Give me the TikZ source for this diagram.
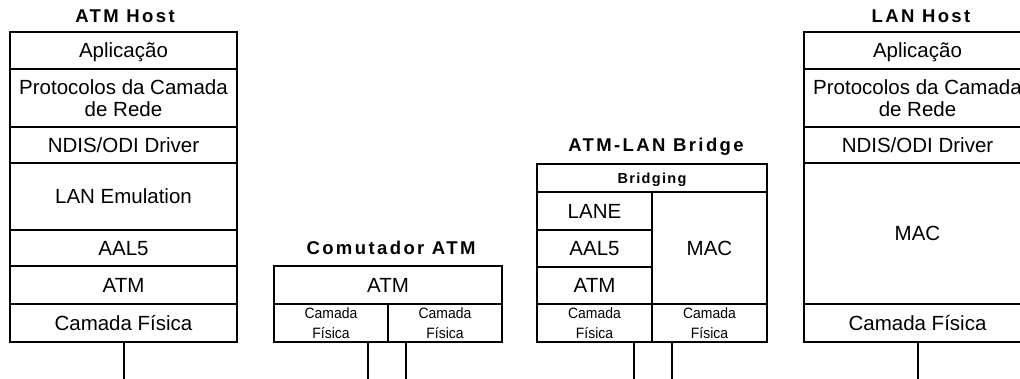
\documentclass[tikz,border=0pt]{standalone}
\usepackage{fontspec}
\setmainfont{Liberation Sans}
\newfontfamily\titlefont[LetterSpace=13]{Liberation Sans}
\newfontfamily\smallbold[LetterSpace=9]{Liberation Sans}
\newfontfamily\smallfont[FakeStretch=0.93]{Liberation Sans}
\begin{document}
\begin{tikzpicture}[x=1pt,y=-1pt,line width=2pt,
  cell/.style={draw,inner sep=0pt,outer sep=0pt,font=\fontsize{20.5}{22}\selectfont,text height=14.7pt,text depth=0pt},
  cellml/.style={draw,inner sep=0pt,outer sep=0pt,align=center,font=\fontsize{20.5}{22}\selectfont},
  small/.style={draw,inner sep=0pt,outer sep=0pt,align=center,font=\smallfont\fontsize{15}{19.5}\selectfont},
  smallb/.style={draw,inner sep=0pt,outer sep=0pt,font=\smallbold\bfseries\fontsize{14.5}{16}\selectfont,text height=10.4pt,text depth=0pt},
  ttl/.style={anchor=base,inner sep=0pt,font=\titlefont\bfseries\fontsize{18.5}{20}\selectfont},
  wire/.style={line width=2pt}]
\useasboundingbox (0,0) rectangle (1020,379);

% ATM Host
\node[ttl] (tA) at (125,23) {ATM Host};
\node[cell,minimum width=227pt,minimum height=37pt] (a1) at (123.5,50.5) {Aplicação};
\node[cellml,minimum width=227pt,minimum height=58pt] (a2) at (123.5,98) {Protocolos da Camada\\de Rede};
\node[cell,minimum width=227pt,minimum height=36pt] (a3) at (123.5,145) {NDIS/ODI Driver};
\node[cell,minimum width=227pt,minimum height=67pt] (a4) at (123.5,196.5) {LAN Emulation};
\node[cell,minimum width=227pt,minimum height=36pt] (a5) at (123.5,248) {AAL5};
\node[cell,minimum width=227pt,minimum height=38pt] (a6) at (123.5,285) {ATM};
\node[cell,minimum width=227pt,minimum height=38pt] (a7) at (123.5,323) {Camada Física};
\coordinate (wa) at (123.5,379);
\draw[wire] (a7.south) -- (wa);

% Comutador ATM
\node[ttl] (tC) at (391,255) {Comutador ATM};
\node[cell,minimum width=228pt,minimum height=38pt] (c0) at (388,285) {ATM};
\node[small,minimum width=114pt,minimum height=38pt] (c1) at (331,323) {Camada\\Física};
\node[small,minimum width=114pt,minimum height=38pt] (c2) at (445,323) {Camada\\Física};
\coordinate (wc1) at (368,379);
\coordinate (wc2) at (406,379);
\draw[wire] (wc1 |- c1.south) -- (wc1);
\draw[wire] (wc2 |- c2.south) -- (wc2);

% ATM-LAN Bridge
\node[ttl] (tB) at (656,152) {ATM-LAN Bridge};
\node[smallb,minimum width=230pt,minimum height=28pt] (b0) at (652,178) {Bridging};
\node[cell,minimum width=115pt,minimum height=38pt] (b1) at (594.5,211) {LANE};
\node[cell,minimum width=115pt,minimum height=37pt] (b2) at (594.5,248.5) {AAL5};
\node[cell,minimum width=115pt,minimum height=37pt] (b3) at (594.5,285.5) {ATM};
\node[cell,minimum width=115pt,minimum height=112pt] (b4) at (709.5,248) {MAC};
\node[small,minimum width=115pt,minimum height=38pt] (b5) at (594.5,323) {Camada\\Física};
\node[small,minimum width=115pt,minimum height=38pt] (b6) at (709.5,323) {Camada\\Física};
\coordinate (wb1) at (634,379);
\coordinate (wb2) at (672,379);
\draw[wire] (wb1 |- b5.south) -- (wb1);
\draw[wire] (wb2 |- b6.south) -- (wb2);

% LAN Host
\node[ttl] (tL) at (921,23) {LAN Host};
\node[cell,minimum width=227pt,minimum height=37pt] (l1) at (917.5,50.5) {Aplicação};
\node[cellml,minimum width=227pt,minimum height=58pt] (l2) at (917.5,98) {Protocolos da Camada\\de Rede};
\node[cell,minimum width=227pt,minimum height=36pt] (l3) at (917.5,145) {NDIS/ODI Driver};
\node[cell,minimum width=227pt,minimum height=141pt] (l4) at (917.5,233.5) {MAC};
\node[cell,minimum width=227pt,minimum height=38pt] (l5) at (917.5,323) {Camada Física};
\coordinate (wl) at (917.5,379);
\draw[wire] (l5.south) -- (wl);
\end{tikzpicture}
\end{document}
